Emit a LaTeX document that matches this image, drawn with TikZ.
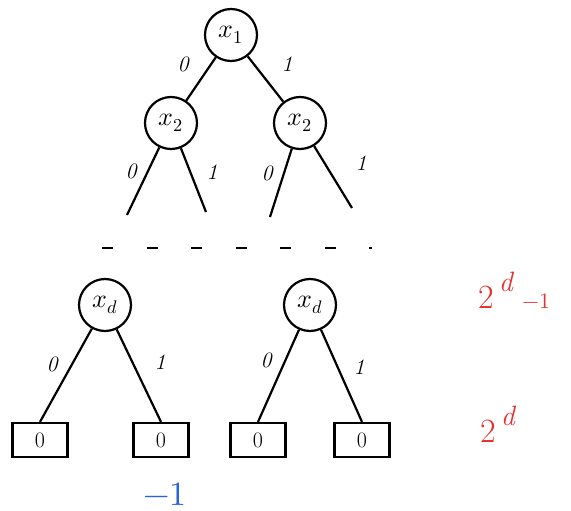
\documentclass[tikz,border=0pt]{standalone}
\usepackage{fontspec}
\usepackage{unicode-math}
\definecolor{hred}{RGB}{228,48,48}
\definecolor{hblue}{RGB}{40,100,220}
\newcommand{\hpow}{2\hspace{5pt}\raisebox{17pt}{\fontsize{28}{30}\selectfont\itshape d}}
\begin{document}
\begin{tikzpicture}[x=1pt,y=-1pt,
  vnode/.style={circle,draw,line width=2.2pt,minimum size=52pt,inner sep=0pt,font=\fontsize{26}{28}\selectfont},
  leaf/.style={rectangle,draw,line width=2.2pt,minimum width=55pt,minimum height=34pt,inner sep=0pt,font=\fontsize{22}{24}\selectfont},
  edge/.style={line width=2.2pt},
  lbl/.style={font=\fontsize{22}{24}\selectfont\itshape},
  redlbl/.style={text=hred,font=\fontsize{34}{36}\selectfont},
  bluelbl/.style={text=hblue,font=\fontsize{34}{36}\selectfont}]
\useasboundingbox (0,0) rectangle (571,511);
% top
\node[vnode] (x1) at (231,35) {$x_1$};
\node[vnode] (x2l) at (171,123) {$x_2$};
\node[vnode] (x2r) at (300,123) {$x_2$};
\draw[edge] (x1) -- (x2l);
\draw[edge] (x1) -- (x2r);
\node[lbl] (l1) at (183,64) {0};
\node[lbl] (l2) at (287,64) {1};
\coordinate (e1) at (127,215);
\coordinate (e2) at (206,212);
\coordinate (e3) at (270,217);
\coordinate (e4) at (352,208);
\draw[edge] (x2l) -- (e1);
\draw[edge] (x2l) -- (e2);
\draw[edge] (x2r) -- (e3);
\draw[edge] (x2r) -- (e4);
\node[lbl] (l3) at (131,171) {0};
\node[lbl] (l4) at (212,172) {1};
\node[lbl] (l5) at (267,173) {0};
\node[lbl] (l6) at (361,163) {1};
% dashes
\coordinate (d1) at (102,248);
\coordinate (d2) at (372,248);
\draw[line width=1.8pt,dash pattern=on 11pt off 33.5pt] (d1) -- (d2);
% bottom
\node[vnode] (xdl) at (105,305) {$x_d$};
\node[vnode] (xdr) at (310,305) {$x_d$};
\node[leaf] (b1) at (40,440) {0};
\node[leaf] (b2) at (161,440) {0};
\node[leaf] (b3) at (258,440) {0};
\node[leaf] (b4) at (362,440) {0};
\draw[edge] (xdl) -- (b1.north);
\draw[edge] (xdl) -- (b2.north);
\draw[edge] (xdr) -- (b3.north);
\draw[edge] (xdr) -- (b4.north);
\node[lbl] (l7) at (52,364) {0};
\node[lbl] (l8) at (160,362) {1};
\node[lbl] (l9) at (266,360) {0};
\node[lbl] (l10) at (359,367) {1};
% annotations
\node[redlbl,anchor=base west,inner sep=0pt] (r1) at (478,308) {\hpow\hspace{10pt}{\fontsize{22}{24}\selectfont$-1$}};
\node[redlbl,anchor=base west,inner sep=0pt] (r2) at (480,442) {\hpow};
\node[bluelbl] (bl) at (165,494) {$-1$};
\end{tikzpicture}
\end{document}
